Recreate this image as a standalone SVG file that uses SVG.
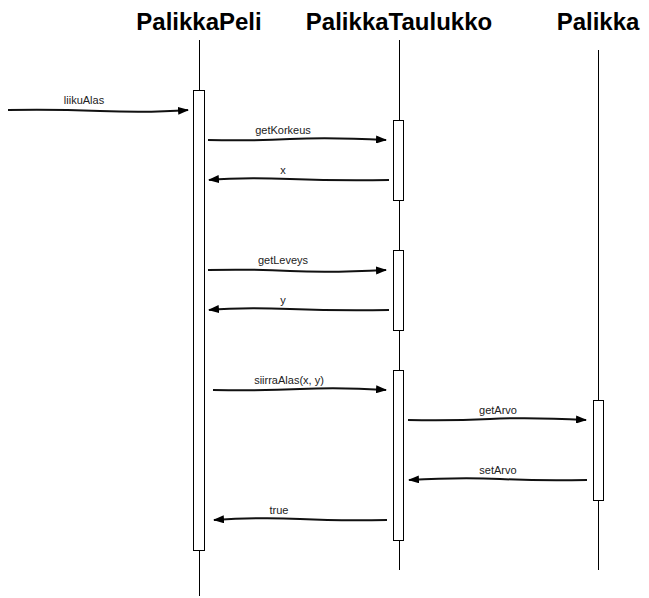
<svg xmlns="http://www.w3.org/2000/svg" width="649" height="598" viewBox="0 0 649 598">
<style>
.title{font-family:"Liberation Sans",Arial,sans-serif;font-weight:bold;font-size:24px;fill:#000;text-anchor:middle}
.lbl{font-family:"Liberation Sans",Arial,sans-serif;font-size:11px;fill:#222;text-anchor:middle}
.life{stroke:#000;stroke-width:1;fill:none}
.act{fill:#fff;stroke:#000;stroke-width:1}
.msg{stroke:#111;stroke-width:2;fill:none;marker-end:url(#ah)}
</style>
<defs>
<marker id="ah" markerWidth="12" markerHeight="8" refX="10" refY="4" orient="auto" markerUnits="userSpaceOnUse">
<path d="M0,0 L11,4 L0,8 Z" fill="#000"/>
</marker>
</defs>
<rect width="649" height="598" fill="#fff"/>
<g id="PalikkaPeli">
<text class="title" x="199" y="30">PalikkaPeli</text>
<line class="life" x1="199.5" y1="40" x2="199.5" y2="596"/>
<rect class="act" x="193.5" y="90.5" width="11" height="460"/>
</g>
<g id="PalikkaTaulukko">
<text class="title" x="399" y="30">PalikkaTaulukko</text>
<line class="life" x1="399.5" y1="40" x2="399.5" y2="570"/>
<rect class="act" x="393.5" y="120.5" width="10" height="80"/>
<rect class="act" x="393.5" y="250.5" width="10" height="80"/>
<rect class="act" x="393.5" y="370.5" width="10" height="170"/>
</g>
<g id="Palikka">
<text class="title" x="598" y="30">Palikka</text>
<line class="life" x1="598.5" y1="50" x2="598.5" y2="570"/>
<rect class="act" x="593.5" y="400.5" width="10" height="100"/>
</g>
<g id="connectors">
<path class="msg" d="M8,110 Q50,109 100,111 T188,110"/>
<text class="lbl" x="84" y="104">liikuAlas</text>
<path class="msg" d="M208,140 Q250,141 290,139 T386,140"/>
<text class="lbl" x="283" y="134">getKorkeus</text>
<path class="msg" d="M389,180 Q340,181 290,179 T209,180"/>
<text class="lbl" x="283" y="174">x</text>
<path class="msg" d="M208,270 Q250,269 290,271 T386,270"/>
<text class="lbl" x="283" y="264">getLeveys</text>
<path class="msg" d="M389,310 Q340,311 290,309 T209,310"/>
<text class="lbl" x="283" y="304">y</text>
<path class="msg" d="M213,390 Q260,391 300,389 T386,390"/>
<text class="lbl" x="289" y="384">siirraAlas(x, y)</text>
<path class="msg" d="M408,420 Q450,421 490,419 T586,420"/>
<text class="lbl" x="498" y="414">getArvo</text>
<path class="msg" d="M587,480 Q540,481 500,479 T409,480"/>
<text class="lbl" x="498" y="474">setArvo</text>
<path class="msg" d="M387,520 Q340,521 300,519 T214,520"/>
<text class="lbl" x="279" y="514">true</text>
</g>
</svg>
